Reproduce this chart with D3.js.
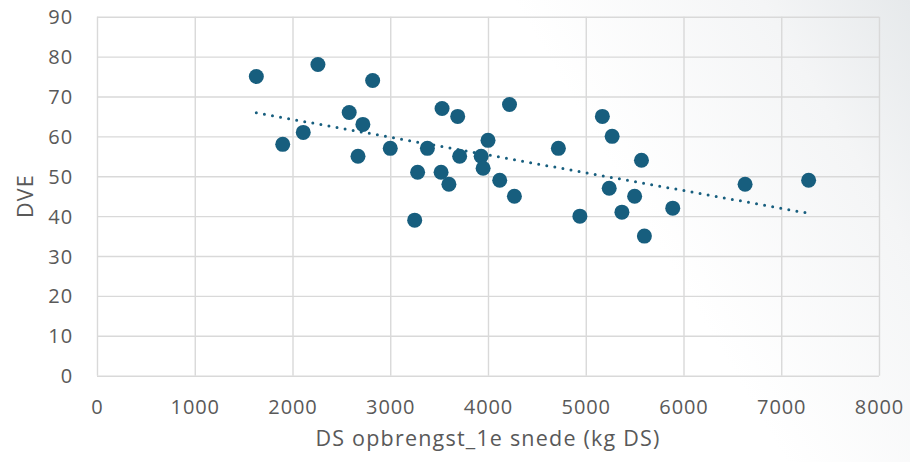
<!DOCTYPE html>
<html><head><meta charset="utf-8">
<script src="https://cdn.jsdelivr.net/npm/d3@7"></script>
<style>html,body{margin:0;padding:0;background:#fff;}svg{display:block;}</style>
</head><body>
<svg id="c" width="910" height="462"></svg>
<script>
const xValues = [1630,1900,2110,2260,2580,2720,2670,2820,3000,3250,3280,3380,3530,3520,3600,3690,3710,3930,3950,4000,4120,4220,4270,4720,4940,5170,5270,5240,5570,5500,5370,5600,5890,6630,7280];
const yValues = [75,58,61,78,66,63,55,74,57,39,51,57,67,51,48,65,55,55,52,59,49,68,45,57,40,65,60,47,54,45,41,35,42,48,49];
const xTicks = [0,1000,2000,3000,4000,5000,6000,7000,8000];
const yTicks = [0,10,20,30,40,50,60,70,80,90];
const xTitle = "DS opbrengst_1e snede (kg DS)";
const yTitle = "DVE";

const svg = d3.select("#c");
const defs = svg.append("defs");
const g1 = defs.append("linearGradient").attr("id","bg").attr("x1","0").attr("x2","1").attr("y1","0.3").attr("y2","0");
g1.append("stop").attr("offset","0.6").attr("stop-color","#ffffff");
g1.append("stop").attr("offset","0.85").attr("stop-color","#f4f5f6");
g1.append("stop").attr("offset","1").attr("stop-color","#e6e9eb");
svg.append("rect").attr("width",910).attr("height",462).attr("fill","url(#bg)");

const x = d3.scaleLinear().domain([0,8000]).range([97,879]);
const y = d3.scaleLinear().domain([0,90]).range([375.7,16.7]);
const font = "'Open Sans', sans-serif";
const grid = "#d9d9d9";

const xg = svg.append("g").attr("transform","translate(0,375.7)")
  .call(d3.axisBottom(x).tickValues(xTicks).tickSize(-(375.7-16.7)).tickPadding(31).tickFormat(d3.format("d")));
const yg = svg.append("g").attr("transform","translate(97,0)")
  .call(d3.axisLeft(y).tickValues(yTicks).tickSize(-(879-97)).tickPadding(24).tickFormat(d3.format("d")));
[xg,yg].forEach(g=>{
  g.select(".domain").remove();
  g.selectAll(".tick line").attr("stroke",grid).attr("stroke-width",1.4);
  g.selectAll(".tick text").attr("fill","#595959").style("font-family",font).style("font-size","20px").style("letter-spacing","0.9px");
});
xg.selectAll(".tick text").attr("dy","0.35em");
yg.selectAll(".tick text").attr("dy","0.35em");

// Trendline (least squares)
const n = xValues.length;
const mx = d3.mean(xValues), my = d3.mean(yValues);
let sxy=0,sxx=0;
for(let i=0;i<n;i++){sxy+=(xValues[i]-mx)*(yValues[i]-my);sxx+=(xValues[i]-mx)**2;}
const b = sxy/sxx, a = my-b*mx;
const [x0,x1] = d3.extent(xValues);
svg.append("line").attr("x1",x(x0)).attr("y1",y(a+b*x0)).attr("x2",x(x1)).attr("y2",y(a+b*x1))
  .attr("stroke","#175e7e").attr("stroke-width",3).attr("stroke-linecap","round").attr("stroke-dasharray","0 8.2");

svg.append("g").selectAll("circle").data(xValues.map((d,i)=>[d,yValues[i]])).join("circle")
  .attr("cx",d=>x(d[0])).attr("cy",d=>y(d[1])).attr("r",7.5).attr("fill","#175e7e");

svg.append("text").attr("x",488).attr("y",446).attr("text-anchor","middle")
  .attr("fill","#595959").style("font-family",font).style("font-size","21.5px").style("letter-spacing","1.2px").text(xTitle);
svg.append("text").attr("transform","translate(33,196) rotate(-90)").attr("text-anchor","middle")
  .attr("fill","#595959").style("font-family",font).style("font-size","21.5px").style("letter-spacing","1.2px").text(yTitle);
</script>
</body></html>
